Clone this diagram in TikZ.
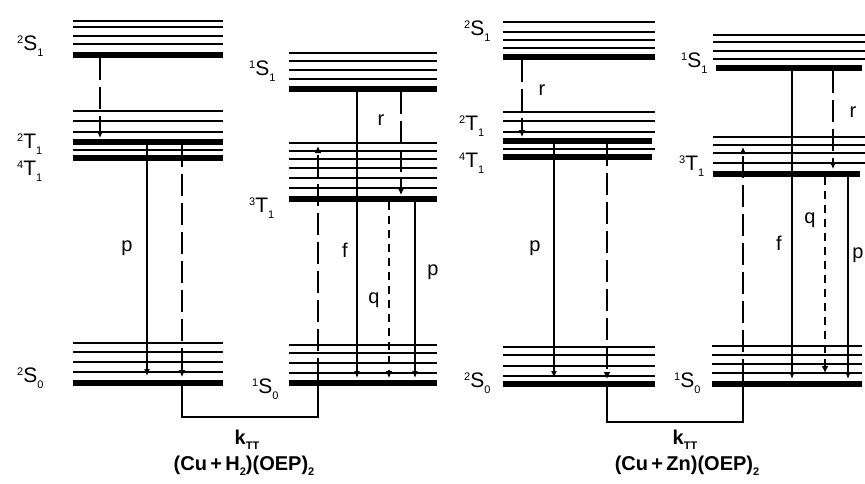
\documentclass[tikz,border=0pt]{standalone}
\usepackage{fontspec}
\setmainfont{Liberation Sans}
\usetikzlibrary{arrows.meta}
\newcommand\lvlab[3]{\raisebox{6.5pt}{\fontsize{11}{11}\selectfont #1}#2\raisebox{-6.5pt}{\fontsize{11}{11}\selectfont #3}}
\newcommand\mysub[1]{\raisebox{-5pt}{\fontsize{11}{11}\selectfont\bfseries #1}}
\begin{document}
\begin{tikzpicture}[x=1pt,y=-1pt,
  thinlvl/.style={line width=1.6pt},
  thicklvl/.style={line width=6.5pt},
  sarr/.style={line width=1.2pt,-{Latex[length=7pt,width=6pt]}},
  larr/.style={line width=2.6pt,dash pattern=on 22pt off 7pt,-{Latex[length=7pt,width=7pt]}},
  qarr/.style={line width=2.6pt,dash pattern=on 8pt off 6pt,-{Latex[length=7pt,width=7pt]}},
  bracket/.style={line width=1.3pt},
  statelab/.style={font=\fontsize{21}{21}\selectfont,inner sep=0pt,anchor=base west},
  ratelab/.style={font=\fontsize{20}{20}\selectfont,inner sep=0pt},
  title/.style={font=\fontsize{20}{20}\selectfont\bfseries,inner sep=0pt}]
\useasboundingbox (0,0) rectangle (865,483);
\fill[white] (0,0) rectangle (865,483);

% ---------- Panel 1: molecule A (Cu part) ----------
\foreach \y in {21,27,36,44} \draw[thinlvl] (73,\y) -- (223,\y);
\draw[thicklvl] (73,55) -- (223,55);
\foreach \y in {111,121,132,150} \draw[thinlvl] (73,\y) -- (223,\y);
\draw[thicklvl] (73,142) -- (223,142);
\draw[thicklvl] (73,158) -- (223,158);
\foreach \y in {343,352,362,372} \draw[thinlvl] (73,\y) -- (223,\y);
\draw[thicklvl] (73,383) -- (223,383);
\node[statelab] (A2S1) at (17,50) {\lvlab{2}{S}{1}};
\node[statelab] (A2T1) at (17,148) {\lvlab{2}{T}{1}};
\node[statelab] (A4T1) at (17,175) {\lvlab{4}{T}{1}};
\node[statelab] (A2S0) at (17,382) {\lvlab{2}{S}{0}};

% ---------- Panel 1: molecule B (H2 part) ----------
\foreach \y in {53,61,70,79} \draw[thinlvl] (289,\y) -- (437,\y);
\draw[thicklvl] (289,89) -- (437,89);
\foreach \y in {143,151,159,168,178,188} \draw[thinlvl] (289,\y) -- (437,\y);
\draw[thicklvl] (289,199) -- (437,199);
\foreach \y in {345,353,363,373} \draw[thinlvl] (289,\y) -- (437,\y);
\draw[thicklvl] (289,383) -- (437,383);
\node[statelab] (B1S1) at (249,75) {\lvlab{1}{S}{1}};
\node[statelab] (B3T1) at (249,212) {\lvlab{3}{T}{1}};
\node[statelab] (B1S0) at (252,393) {\lvlab{1}{S}{0}};

% coordinates panel 1
\coordinate (a1) at (100,58);  \coordinate (a2) at (100,138);
\coordinate (a3) at (147,145); \coordinate (a4) at (147,376);
\coordinate (a5) at (182,145); \coordinate (a6) at (182,377);
\coordinate (a7) at (182,386); \coordinate (a8) at (182,417);
\coordinate (b1) at (357,92);  \coordinate (b2) at (357,378);
\coordinate (b3) at (401,92);  \coordinate (b4) at (401,195);
\coordinate (b5) at (318,380); \coordinate (b6) at (318,146);
\coordinate (b7) at (389,202); \coordinate (b8) at (389,378);
\coordinate (b9) at (415,202); \coordinate (b10) at (415,378);
\coordinate (b11) at (318,386);

\draw[larr] (a1) -- (a2);
\draw[sarr] (a3) -- (a4);
\draw[larr] (a5) -- (a6);
\draw[sarr] (b1) -- (b2);
\draw[larr] (b3) -- (b4);
\draw[larr] (b5) -- (b6);
\draw[qarr] (b7) -- (b8);
\draw[sarr] (b9) -- (b10);
\draw[bracket] (a7) -- (a8) -| (b11);

\node[ratelab] (Ap) at (127,248) {p};
\node[ratelab] (Br) at (381,120) {r};
\node[ratelab] (Bf) at (345,250) {f};
\node[ratelab] (Bq) at (374,300) {q};
\node[ratelab] (Bp) at (433,272) {p};
\node[title] (k1) at (247,440) {k\mysub{TT}};
\node[title] (t1) at (244,466) {(Cu\,+\,H\mysub{2})(OEP)\mysub{2}};

% ---------- Panel 2: molecule C (Cu part) ----------
\foreach \y in {22,32,40,48} \draw[thinlvl] (503,\y) -- (655,\y);
\draw[thicklvl] (503,57) -- (655,57);
\foreach \y in {112,121,132,149} \draw[thinlvl] (503,\y) -- (655,\y);
\draw[thicklvl] (503,141) -- (652,141);
\draw[thicklvl] (503,157) -- (652,157);
\foreach \y in {347,355,366,376} \draw[thinlvl] (503,\y) -- (655,\y);
\draw[thicklvl] (503,384) -- (655,384);
\node[statelab] (C2S1) at (464,35) {\lvlab{2}{S}{1}};
\node[statelab] (C2T1) at (459,130) {\lvlab{2}{T}{1}};
\node[statelab] (C4T1) at (459,167) {\lvlab{4}{T}{1}};
\node[statelab] (C2S0) at (464,387) {\lvlab{2}{S}{0}};

% ---------- Panel 2: molecule D (Zn part) ----------
\foreach \y in {35,42,51,59} \draw[thinlvl] (713,\y) -- (865,\y);
\draw[thicklvl] (716,68) -- (862,68);
\foreach \y in {137,145,153,163} \draw[thinlvl] (713,\y) -- (865,\y);
\draw[thicklvl] (713,174) -- (860,174);
\foreach \y in {346,355,364,373} \draw[thinlvl] (712,\y) -- (862,\y);
\draw[thicklvl] (712,384) -- (862,384);
\node[statelab] (D1S1) at (681,67) {\lvlab{1}{S}{1}};
\node[statelab] (D3T1) at (679,170) {\lvlab{3}{T}{1}};
\node[statelab] (D1S0) at (674,387) {\lvlab{1}{S}{0}};

% coordinates panel 2
\coordinate (c1) at (522,60);  \coordinate (c2) at (522,137);
\coordinate (c3) at (554,144); \coordinate (c4) at (554,378);
\coordinate (c5) at (607,144); \coordinate (c6) at (607,379);
\coordinate (c7) at (607,387); \coordinate (c8) at (607,422);
\coordinate (d1) at (792,71);  \coordinate (d2) at (792,379);
\coordinate (d3) at (833,71);  \coordinate (d4) at (833,169);
\coordinate (d5) at (743,381); \coordinate (d6) at (743,147);
\coordinate (d7) at (825,177); \coordinate (d8) at (825,373);
\coordinate (d9) at (848,177); \coordinate (d10) at (848,379);
\coordinate (d11) at (743,387);

\draw[larr] (c1) -- (c2);
\draw[sarr] (c3) -- (c4);
\draw[larr] (c5) -- (c6);
\draw[sarr] (d1) -- (d2);
\draw[larr] (d3) -- (d4);
\draw[larr] (d5) -- (d6);
\draw[qarr] (d7) -- (d8);
\draw[sarr] (d9) -- (d10);
\draw[bracket] (c7) -- (c8) -| (d11);

\node[ratelab] (Cr) at (542,90) {r};
\node[ratelab] (Cp) at (535,248) {p};
\node[ratelab] (Df) at (779,243) {f};
\node[ratelab] (Dq) at (810,220) {q};
\node[ratelab] (Dr) at (853,112) {r};
\node[ratelab] (Dp) at (858,255) {p};
\node[title] (k2) at (685,440) {k\mysub{TT}};
\node[title] (t2) at (687,466) {(Cu\,+\,Zn)(OEP)\mysub{2}};
\end{tikzpicture}
\end{document}
